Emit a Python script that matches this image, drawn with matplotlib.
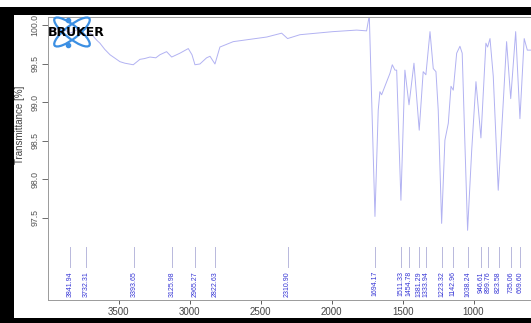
import numpy as np
import matplotlib
matplotlib.use("Agg")
import matplotlib.pyplot as plt
from matplotlib.patches import Rectangle, Ellipse

plt.rcParams["font.family"] = ["Liberation Sans", "DejaVu Sans"]

# spectrum (wavenumber cm-1, transmittance %)
wavenumber = [4000, 3900, 3842, 3790, 3732, 3700, 3657, 3634, 3600, 3563,
              3493, 3458, 3399, 3352, 3320, 3281, 3240, 3211, 3164, 3128,
              3070, 3011, 2985, 2964, 2929, 2882, 2858, 2823, 2788, 2694,
              2576, 2458, 2353, 2311, 2224, 1991, 1824, 1754, 1735,
              1695, 1672, 1660, 1648, 1625, 1589, 1573, 1554, 1542, 1512,
              1484, 1455, 1420, 1383, 1355, 1336, 1307, 1284, 1265, 1249,
              1225, 1202, 1178, 1159, 1143, 1119, 1096, 1080, 1061, 1042,
              1013, 983, 948, 913, 901, 884, 861, 826, 791, 767,
              738, 703, 673, 643, 621, 595]
transmittance = [99.95, 99.96, 99.90, 99.95, 99.86, 99.90, 99.81, 99.77, 99.69, 99.62,
                 99.53, 99.51, 99.49, 99.56, 99.57, 99.59, 99.58, 99.62, 99.66, 99.59,
                 99.64, 99.70, 99.62, 99.49, 99.50, 99.58, 99.60, 99.50, 99.72, 99.79,
                 99.82, 99.85, 99.90, 99.83, 99.88, 99.92, 99.94, 99.93, 100.13,
                 97.52, 98.90, 99.14, 99.10, 99.21, 99.38, 99.49, 99.42, 99.42, 97.73,
                 99.42, 98.97, 99.51, 98.64, 99.40, 99.36, 99.92, 99.44, 99.40, 98.90,
                 97.43, 98.51, 98.73, 99.21, 99.16, 99.64, 99.73, 99.64, 98.47, 97.34,
                 98.38, 99.27, 98.54, 99.77, 99.72, 99.83, 99.34, 97.86, 98.99, 99.79,
                 99.05, 99.92, 98.79, 99.83, 99.68, 99.68]

peaks = [3841.94, 3732.31, 3393.65, 3125.98, 2965.27, 2822.63, 2310.90, 1694.17,
         1511.33, 1454.78, 1381.29, 1333.94, 1223.32, 1142.96, 1038.24, 946.61,
         899.76, 823.58, 735.06, 669.60]

yticks = [97.5, 98.0, 98.5, 99.0, 99.5, 100.0]
xticks = [3500, 3000, 2500, 2000, 1500, 1000]

W, H = 531, 323
fig = plt.figure(figsize=(W / 100, H / 100), dpi=100)
fig.patch.set_facecolor("white")

ax = fig.add_axes([48 / W, (H - 300) / H, (W - 48) / W, (300 - 17) / H])
ax.plot(wavenumber, transmittance, color="#b2b2f2", lw=0.7)

# peak picks
for p in peaks:
    ax.plot([p, p], [96.86, 97.12], color="#b8b8dc", lw=0.7)
    ax.text(p, 96.81, "%.2f" % p, rotation=90, ha="center", va="top",
            fontsize=5, color="#3535d5")

ax.set_xlim(4000, 595)
ax.set_ylim(96.435, 100.11)
ax.set_xticks(xticks)
ax.set_yticks(yticks)
ax.set_yticklabels(["%.1f" % v for v in yticks], rotation=90, va="center")
ax.tick_params(axis="y", labelsize=6.3, colors="#555555", length=4, width=0.6, pad=2)
ax.tick_params(axis="x", labelsize=7, colors="#444444", length=3, width=0.6, pad=2)
for s in ["left", "bottom", "top"]:
    ax.spines[s].set_color("#9a9a9a")
    ax.spines[s].set_linewidth(0.7)
ax.spines["right"].set_visible(False)

fig.text(20 / W, 1 - 125 / H, "Transmittance [%]", rotation=90, ha="center",
         va="center", fontsize=7, color="#444444")

# logo
lg = fig.add_axes([50 / W, (H - 50) / H, 50 / W, 36 / H])
lg.set_xlim(0, 50)
lg.set_ylim(0, 36)
lg.axis("off")
for ang in [38, -38]:
    lg.add_patch(Ellipse((22, 18), 44, 13, angle=ang, fill=False,
                         edgecolor="#3b8fe3", lw=1.6))
lg.plot([18, 18], [30, 5], "o", color="#3b8fe3", ms=3)
fig.text(48 / W, 1 - 33 / H, "BRUKER", ha="left", va="center", fontsize=9,
         fontweight="bold", color="black", family="DejaVu Sans", zorder=5)

# black screenshot frame
frame = [(0, 0, 14, H - 7), (7, H - 15, W - 7, 8), (0, 0, W, 5)]
for x0, y0, w, h in frame:
    fig.add_artist(Rectangle((x0 / W, y0 / H), w / W, h / H, transform=fig.transFigure,
                             facecolor="black", edgecolor="none", zorder=10))

fig.savefig("out.png", dpi=100, facecolor="white")
